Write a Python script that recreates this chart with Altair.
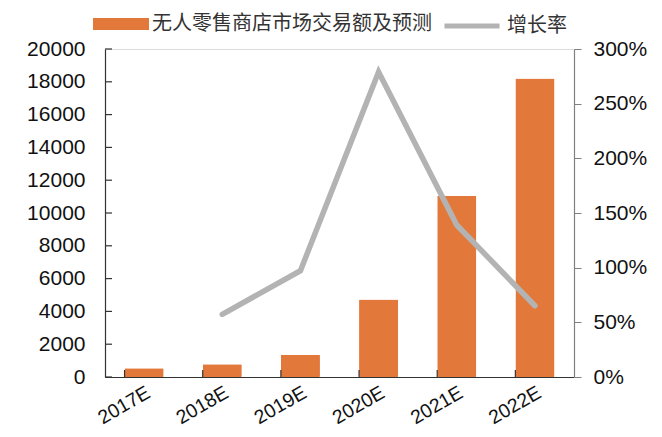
import altair as alt
import pandas as pd

categories = ["2017E", "2018E", "2019E", "2020E", "2021E", "2022E"]
sales = [530, 770, 1350, 4730, 11050, 18200]
growth = [None, 0.573, 0.972, 2.79, 1.39, 0.652]
left_ticks = [0, 2000, 4000, 6000, 8000, 10000, 12000, 14000, 16000, 18000, 20000]
right_ticks = [0, 0.5, 1.0, 1.5, 2.0, 2.5, 3.0]
bar_label = "无人零售商店市场交易额及预测"
line_label = "增长率"

ORANGE = "#E2783A"
GRAY = "#B3B3B3"
W, H = 469, 328

bars_df = pd.DataFrame({"cat": categories, "v": sales, "s": [bar_label] * len(categories)})
line_df = pd.DataFrame({"cat": categories, "g": growth, "s": [line_label] * len(categories)}).dropna()
ticks_df = pd.DataFrame({"t": left_ticks})
cats_df = pd.DataFrame({"cat": categories})

xenc = alt.X(
    "cat:N",
    sort=categories,
    scale=alt.Scale(paddingInner=0.5, paddingOuter=0.25),
    axis=alt.Axis(title=None, labelAngle=-30, ticks=False, labelFontSize=19.5,
                  labelColor="#111111", domainColor="#333333", domainWidth=1.2,
                  labelPadding=6, labelFont="Liberation Sans"),
)

yscale_left = alt.Scale(domain=[0, 20000], nice=False)
left_axis = alt.Axis(title=None, values=left_ticks, ticks=False, grid=False, format="d",
                     labelFontSize=21, labelColor="#111111", labelPadding=20,
                     domainColor="#333333", domainWidth=1.2,
                     labelFont="Liberation Sans")

bars = alt.Chart(bars_df).mark_bar(cornerRadius=1).encode(
    x=xenc,
    y=alt.Y("v:Q", scale=yscale_left, axis=left_axis),
    color=alt.Color("s:N", scale=alt.Scale(domain=[bar_label], range=[ORANGE]),
                    legend=alt.Legend(title=None, orient="none", legendX=-12, legendY=-53,
                                      symbolType="M-1,-0.21H1V0.21H-1Z", symbolSize=3136,
                                      symbolStrokeWidth=0, labelFontSize=20, labelLimit=0,
                                      labelFont="Noto Sans CJK SC", labelColor="#333333",
                                      labelOffset=3)),
)

lt = alt.Chart(ticks_df).mark_rule(color="#333333", strokeWidth=1.2).encode(
    y=alt.Y("t:Q", scale=yscale_left, axis=left_axis),
    x=alt.value(0),
    x2=alt.value(7),
)

xt = alt.Chart(cats_df).mark_rule(color="#333333", strokeWidth=1.2).encode(
    x=alt.X("cat:N", sort=categories, bandPosition=0),
    y=alt.value(H),
    y2=alt.value(H - 7),
)

left = alt.layer(bars, lt, xt)

line = alt.Chart(line_df).mark_line(strokeWidth=5.5, strokeCap="round", strokeJoin="miter").encode(
    x=alt.X("cat:N", sort=categories),
    y=alt.Y("g:Q", scale=alt.Scale(domain=[0, 3], nice=False),
            axis=alt.Axis(title=None, orient="right", values=right_ticks, format=".0%",
                          grid=False, tickSize=7, tickColor="#808080", domainColor="#808080",
                          domainWidth=1.2, labelFontSize=21, labelColor="#111111",
                          labelPadding=12, labelFont="Liberation Sans")),
    color=alt.Color("s:N", scale=alt.Scale(domain=[line_label], range=[GRAY]),
                    legend=alt.Legend(title=None, orient="none", legendX=337, legendY=-53,
                                      symbolType="stroke", symbolSize=3025,
                                      symbolStrokeWidth=5, labelFontSize=20, labelLimit=0,
                                      labelFont="Noto Sans CJK SC", labelColor="#333333",
                                      labelOffset=5)),
)

chart = alt.layer(left, line).resolve_scale(y="independent", color="independent").properties(
    width=W, height=H,
    autosize=alt.AutoSizeParams(type="none"),
    padding={"left": 97, "top": 41, "right": 80, "bottom": 52},
).configure_view(stroke=None).configure(background="white")

chart.save("out.html", embed_options={"renderer": "svg", "actions": False})
